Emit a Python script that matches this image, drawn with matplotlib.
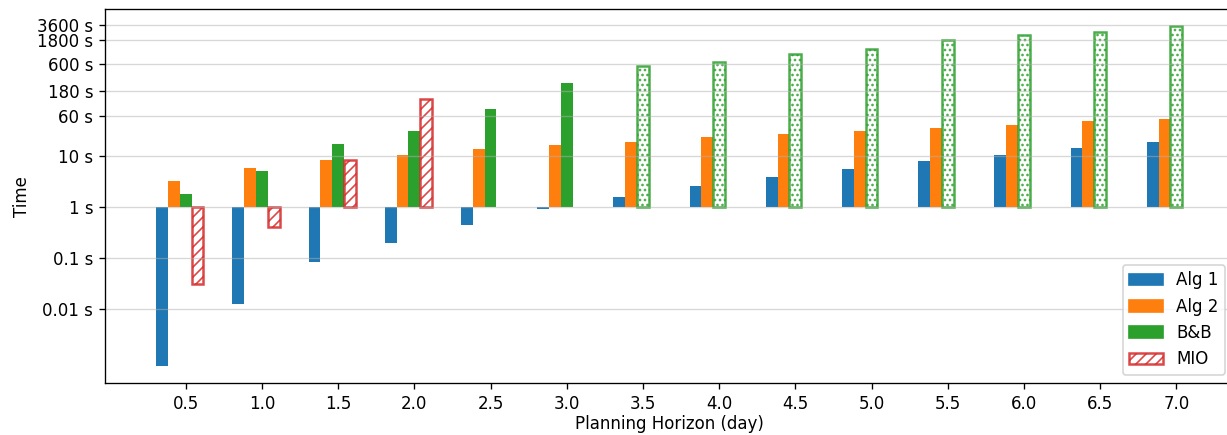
import numpy as np
import matplotlib
matplotlib.use("Agg")
import matplotlib.pyplot as plt
from matplotlib.ticker import NullLocator
from matplotlib.patches import Patch

# horizon in days
horizons = ["0.5", "1.0", "1.5", "2.0", "2.5", "3.0", "3.5",
            "4.0", "4.5", "5.0", "5.5", "6.0", "6.5", "7.0"]

# solve times in seconds
alg1 = [0.00078, 0.013, 0.083, 0.20, 0.45, 0.91, 1.57,
        2.56, 3.83, 5.5, 7.85, 10.3, 14.1, 18.4]
alg2 = [3.2, 5.7, 8.2, 10.1, 13.4, 16.1, 18.4,
        23.0, 26.3, 30.1, 34.4, 39.4, 47.1, 51.5]
bnb = [1.79, 5.0, 16.8, 30.1, 80.7, 258, 571,
       684, 960, 1202, 1800, 2250, 2540, 3370]
# B&B runs that hit the limit (drawn dotted)
bnb_limit = [False, False, False, False, False, False, True,
             True, True, True, True, True, True, True]
mio = [0.031, 0.40, 8.3, 130]

ytick_vals = [0.01, 0.1, 1, 10, 60, 180, 600, 1800, 3600]
ytick_labels = ["0.01 s", "0.1 s", "1 s", "10 s", "60 s", "180 s",
                "600 s", "1800 s", "3600 s"]

c_alg1 = "#1f77b4"
c_alg2 = "#ff7f0e"
c_bnb = "#2ca02c"
c_mio = "#d62728"

w = 0.155
x = np.arange(len(horizons))

fig = plt.figure(figsize=(1227 / 120, 435 / 120), dpi=120)
ax = fig.add_axes([105 / 1227, 1 - 383.3 / 435, 1128.5 / 1227, 374.3 / 435])

ax.set_yscale("log")

ax.bar(x - 2 * w, np.array(alg1) - 1, bottom=1, width=w, color=c_alg1)
ax.bar(x - w, np.array(alg2) - 1, bottom=1, width=w, color=c_alg2)

solved = [i for i in range(len(x)) if not bnb_limit[i]]
limited = [i for i in range(len(x)) if bnb_limit[i]]
ax.bar(x[solved], np.array(bnb)[solved] - 1, bottom=1, width=w, color=c_bnb)
ax.bar(x[limited], np.array(bnb)[limited] - 1, bottom=1, width=w,
       facecolor="white", edgecolor=c_bnb, hatch="....", lw=1.5, alpha=0.85)

xm = x[:len(mio)]
ax.bar(xm + w, np.array(mio) - 1, bottom=1, width=w,
       facecolor="white", edgecolor=c_mio, hatch="////", lw=1.5, alpha=0.85)

ax.set_xlim(-1.06, 13.75)
ax.set_xticks(x)
ax.set_xticklabels(horizons)
ax.set_yticks(ytick_vals)
ax.set_yticklabels(ytick_labels)
ax.yaxis.set_minor_locator(NullLocator())
ax.grid(axis="y", alpha=0.5)

ax.set_xlabel("Planning Horizon (day)", labelpad=1.5)
ax.set_ylabel("Time")

handles = [Patch(color=c_alg1, label="Alg 1"),
           Patch(color=c_alg2, label="Alg 2"),
           Patch(color=c_bnb, label="B&B"),
           Patch(facecolor="white", edgecolor=c_mio, hatch="////", lw=1.5,
                 alpha=0.85, label="MIO")]
ax.legend(handles=handles, loc="lower right")

fig.savefig("out.png", dpi=120)
